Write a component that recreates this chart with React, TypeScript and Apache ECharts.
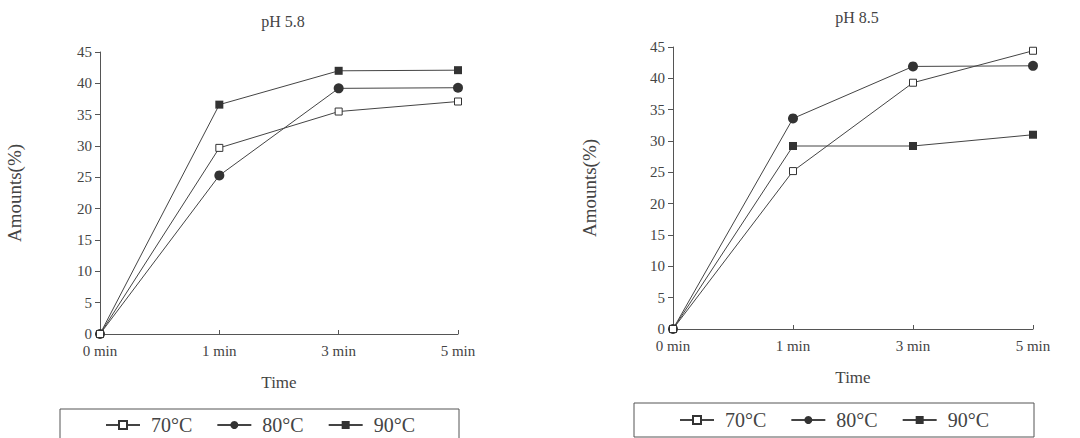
import React, { useEffect, useRef } from "react";
import * as echarts from "echarts";

const timeLabels = ["0 min", "1 min", "3 min", "5 min"];
const seriesNames = ["70°C", "80°C", "90°C"];

const ph58_70 = [0, 29.7, 35.5, 37.1];
const ph58_80 = [0, 25.3, 39.2, 39.3];
const ph58_90 = [0, 36.6, 42.0, 42.1];

const ph85_70 = [0, 25.2, 39.3, 44.4];
const ph85_80 = [0, 33.6, 41.9, 42.0];
const ph85_90 = [0, 29.2, 29.2, 31.0];

const FONT = "'Liberation Serif', 'DejaVu Serif', serif";
const INK = "#333";
const TXT = "#444";

const seriesStyle = [
  { symbol: "rect", symbolSize: 7, itemStyle: { color: "#fff", borderColor: INK, borderWidth: 1 } },
  { symbol: "circle", symbolSize: 10, itemStyle: { color: INK, borderColor: INK, borderWidth: 0 } },
  { symbol: "rect", symbolSize: 8, itemStyle: { color: INK, borderColor: INK, borderWidth: 0 } },
];

function makeSeries(name: string, idx: number, data: number[], axis: number) {
  const s = seriesStyle[idx];
  return {
    type: "line",
    name,
    xAxisIndex: axis,
    yAxisIndex: axis,
    data,
    symbol: s.symbol,
    symbolSize: s.symbolSize,
    showSymbol: true,
    itemStyle: s.itemStyle,
    lineStyle: { color: "#444", width: 1 },
    z: idx === 0 ? 4 : 3,
  };
}

function xAxisCfg(grid: number) {
  return {
    type: "category",
    gridIndex: grid,
    data: timeLabels,
    boundaryGap: false,
    axisLine: { lineStyle: { color: "#555", width: 1 } },
    axisTick: { inside: true, length: 4, lineStyle: { color: "#555" } },
    axisLabel: { color: TXT, fontFamily: FONT, fontSize: 15, margin: 9 },
    name: "Time",
    nameLocation: "middle",
    nameGap: 40,
    nameTextStyle: { color: TXT, fontFamily: FONT, fontSize: 17 },
    splitLine: { show: false },
  };
}

function yAxisCfg(grid: number, gap: number) {
  return {
    type: "value",
    gridIndex: grid,
    min: 0,
    max: 45,
    interval: 5,
    axisLine: { show: true, lineStyle: { color: "#555", width: 1 } },
    axisTick: { show: true, length: 5, lineStyle: { color: "#555" } },
    axisLabel: { color: TXT, fontFamily: FONT, fontSize: 15, margin: 8 },
    splitLine: { show: false },
    name: "Amounts(%)",
    nameLocation: "middle",
    nameGap: gap,
    nameRotate: 90,
    nameTextStyle: { color: TXT, fontFamily: FONT, fontSize: 19 },
  };
}

function legendCfg(left: number, top: number) {
  return {
    data: seriesNames,
    left,
    top,
    orient: "horizontal",
    itemWidth: 34,
    itemHeight: 10,
    itemGap: 24,
    textStyle: { color: TXT, fontFamily: FONT, fontSize: 20, padding: [0, 0, 0, 6] },
    selectedMode: false,
  };
}

export default function App() {
  const ref = useRef<HTMLDivElement>(null);
  useEffect(() => {
    if (!ref.current) return;
    const chart = echarts.init(ref.current, null, { renderer: "svg" });
    chart.setOption({
      animation: false,
      backgroundColor: "#fff",
      title: [
        { text: "pH 5.8", left: 278, top: 8, textAlign: "center", textStyle: { color: TXT, fontFamily: FONT, fontSize: 16, fontWeight: "normal" } },
        { text: "pH 8.5", left: 852, top: 4, textAlign: "center", textStyle: { color: TXT, fontFamily: FONT, fontSize: 16, fontWeight: "normal" } },
      ],
      grid: [
        { left: 100, top: 52, width: 358, height: 282 },
        { left: 673, top: 47, width: 360, height: 282 },
      ],
      xAxis: [xAxisCfg(0), xAxisCfg(1)],
      yAxis: [yAxisCfg(0, 76), yAxisCfg(1, 74)],
      legend: [legendCfg(100, 410), legendCfg(674, 405)],
      graphic: [
        { type: "rect", shape: { x: 60, y: 409, width: 399, height: 40 }, style: { fill: "none", stroke: "#555", lineWidth: 1 }, silent: true },
        { type: "rect", shape: { x: 634, y: 403, width: 400, height: 34 }, style: { fill: "none", stroke: "#555", lineWidth: 1 }, silent: true },
      ],
      series: [
        makeSeries(seriesNames[0], 0, ph58_70, 0),
        makeSeries(seriesNames[1], 1, ph58_80, 0),
        makeSeries(seriesNames[2], 2, ph58_90, 0),
        makeSeries(seriesNames[0], 0, ph85_70, 1),
        makeSeries(seriesNames[1], 1, ph85_80, 1),
        makeSeries(seriesNames[2], 2, ph85_90, 1),
      ],
    });
    return () => chart.dispose();
  }, []);
  return (
    <div
      ref={ref}
      style={{ position: "fixed", left: 0, top: 0, width: 1080, height: 438, background: "#fff" }}
    />
  );
}
